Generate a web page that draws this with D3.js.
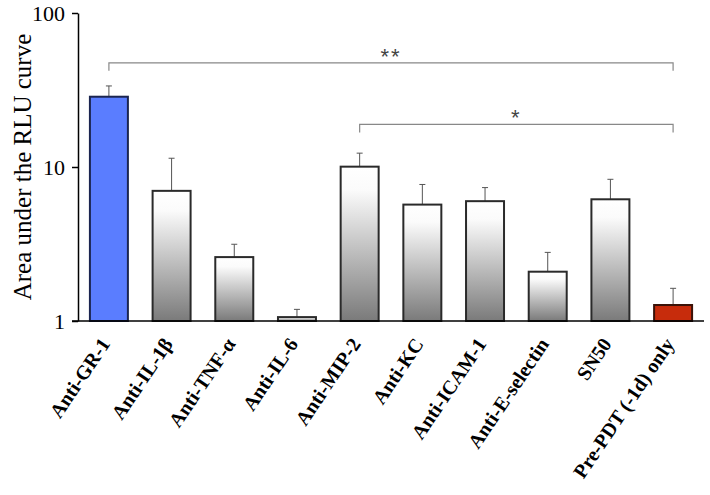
<!DOCTYPE html>
<html>
<head>
<meta charset="utf-8">
<script src="https://cdn.jsdelivr.net/npm/d3@7"></script>
<style>
  body { margin: 0; background: #fff; }
  svg { display: block; }
</style>
</head>
<body>
<script>
// data
var categories = ["Anti-GR-1", "Anti-IL-1\u03b2", "Anti-TNF-\u03b1", "Anti-IL-6", "Anti-MIP-2",
                  "Anti-KC", "Anti-ICAM-1", "Anti-E-selectin", "SN50", "Pre-PDT (-1d) only"];
var values = [28.6, 7.0, 2.6, 1.06, 10.05, 5.7, 6.0, 2.09, 6.17, 1.27];
var errors = [5.0, 4.4, 0.55, 0.13, 2.25, 2.0, 1.35, 0.7, 2.15, 0.36];
var yTicks = [1, 10, 100];
// significance brackets: from, to, level, label
var brackets = [
  {from: "Anti-GR-1", to: "Pre-PDT (-1d) only", level: 47.5, label: "**"},
  {from: "Anti-MIP-2", to: "Pre-PDT (-1d) only", level: 18.9, label: "*"}
];

var serif = "'Liberation Serif', 'Times New Roman', serif";

var margin = {top: 13, right: 6, bottom: 174, left: 78},
    width = 710 - margin.left - margin.right,
    height = 495 - margin.top - margin.bottom;

var svg = d3.select("body").append("svg")
    .attr("width", 710)
    .attr("height", 495);

var defs = svg.append("defs");
var grad = defs.append("linearGradient")
    .attr("id", "greyGrad")
    .attr("x1", 0).attr("y1", 0).attr("x2", 0).attr("y2", 1);
grad.append("stop").attr("offset", "0%").attr("stop-color", "#ffffff");
grad.append("stop").attr("offset", "15%").attr("stop-color", "#fbfbfb");
grad.append("stop").attr("offset", "100%").attr("stop-color", "#7a7a7a");

var g = svg.append("g")
    .attr("transform", "translate(" + margin.left + "," + margin.top + ")");

var x = d3.scaleBand()
    .domain(categories)
    .range([0, width])
    .paddingInner(0.394)
    .paddingOuter(0.19);

var y = d3.scaleLog()
    .domain([1, 100])
    .range([height, 0]);

function fillFor(i) {
  if (i === 0) return "#5a7dff";
  if (i === categories.length - 1) return "#c72c0c";
  return "url(#greyGrad)";
}
function strokeFor(i) {
  if (i === 0) return "#1b2550";
  if (i === categories.length - 1) return "#3a1208";
  return "#2a2a2a";
}

// error bars (behind bars)
var eb = g.selectAll(".err")
    .data(categories)
  .enter().append("g")
    .attr("class", "err")
    .attr("stroke", "#555")
    .attr("stroke-width", 1);
eb.append("line")
    .attr("x1", function(d) { return x(d) + x.bandwidth() / 2; })
    .attr("x2", function(d) { return x(d) + x.bandwidth() / 2; })
    .attr("y1", function(d, i) { return y(values[i]); })
    .attr("y2", function(d, i) { return y(values[i] + errors[i]); });
eb.append("line")
    .attr("x1", function(d) { return x(d) + x.bandwidth() / 2 - 3; })
    .attr("x2", function(d) { return x(d) + x.bandwidth() / 2 + 3; })
    .attr("y1", function(d, i) { return y(values[i] + errors[i]); })
    .attr("y2", function(d, i) { return y(values[i] + errors[i]); });

// bars
g.selectAll(".bar")
    .data(categories)
  .enter().append("rect")
    .attr("class", "bar")
    .attr("x", function(d) { return x(d); })
    .attr("y", function(d, i) { return y(values[i]); })
    .attr("width", x.bandwidth())
    .attr("height", function(d, i) { return height - y(values[i]); })
    .attr("fill", function(d, i) { return fillFor(i); })
    .attr("stroke", function(d, i) { return strokeFor(i); })
    .attr("stroke-width", 2);

// y axis
var yAxis = g.append("g")
    .call(d3.axisLeft(y).tickValues(yTicks).tickFormat(d3.format("d")).tickSize(6).tickSizeOuter(0));
yAxis.select(".domain").attr("stroke", "#000").attr("stroke-width", 1.5);
yAxis.selectAll(".tick line").attr("stroke", "#000").attr("stroke-width", 1.5);
yAxis.selectAll(".tick text")
    .attr("x", -13)
    .style("font-family", serif)
    .style("font-size", "22px")
    .attr("fill", "#000");

// x axis baseline
g.append("line")
    .attr("x1", -6).attr("x2", width)
    .attr("y1", height).attr("y2", height)
    .attr("stroke", "#000")
    .attr("stroke-width", 1.5);

// category labels
g.selectAll(".xlab")
    .data(categories)
  .enter().append("text")
    .attr("class", "xlab")
    .attr("transform", function(d) {
      return "translate(" + (x(d) + x.bandwidth() / 2 + 2) + "," + (height + 23) + ") rotate(-56)";
    })
    .style("text-anchor", "end")
    .style("font-family", serif)
    .style("font-weight", "bold")
    .style("font-size", "20px")
    .text(function(d) { return d; });

// significance brackets
brackets.forEach(function(b) {
  var x0 = x(b.from) + x.bandwidth() / 2,
      x1 = x(b.to) + x.bandwidth() / 2,
      yb = y(b.level);
  g.append("path")
      .attr("d", "M" + x0 + "," + (yb + 8) + "V" + yb + "H" + x1 + "V" + (yb + 8))
      .attr("fill", "none")
      .attr("stroke", "#888")
      .attr("stroke-width", 1.2);
  g.append("text")
      .attr("x", (x0 + x1) / 2)
      .attr("y", yb + 1)
      .style("text-anchor", "middle")
      .style("font-family", "'Liberation Sans', Arial, sans-serif")
      .style("font-size", "22px")
      .style("letter-spacing", "2px")
      .attr("fill", "#444")
      .text(b.label);
});

// y axis title
svg.append("text")
    .attr("transform", "translate(22," + (margin.top + height / 2) + ") rotate(-90)")
    .style("text-anchor", "middle")
    .style("font-family", serif)
    .style("font-size", "25px")
    .attr("dy", "0.35em")
    .text("Area under the RLU curve");
</script>
</body>
</html>
